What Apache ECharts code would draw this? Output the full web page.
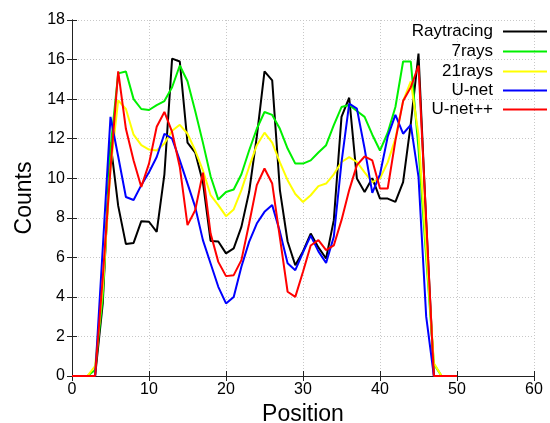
<!DOCTYPE html>
<html>
<head>
<meta charset="utf-8">
<script src="https://cdn.jsdelivr.net/npm/echarts@6/dist/echarts.min.js"></script>
<style>
  html, body { margin: 0; padding: 0; background: #fff; }
  #chart { width: 550px; height: 423px; }
</style>
</head>
<body>
<div id="chart"></div>
<script>
// x positions (0..50)
const positions = [0, 1, 2, 3, 4, 5, 6, 7, 8, 9, 10, 11, 12, 13, 14, 15, 16, 17, 18, 19, 20,
  21, 22, 23, 24, 25, 26, 27, 28, 29, 30, 31, 32, 33, 34, 35, 36, 37, 38, 39, 40,
  41, 42, 43, 44, 45, 46, 47, 48, 49, 50];

const seriesNames = ['Raytracing', '7rays', '21rays', 'U-net', 'U-net++'];
const seriesColors = ['#000000', '#00f000', '#ffff00', '#0000ff', '#ff0000'];

const raytracing = [0, 0, 0, 0, 3.7, 11.8, 8.6, 6.67, 6.73, 7.83, 7.8, 7.29, 10.2, 16.05, 15.9, 11.8, 11.3, 9.8, 6.83, 6.8, 6.2,
  6.45, 7.54, 9.3, 12.1, 15.4, 14.95, 9.4, 6.8, 5.6, 6.3, 7.2, 6.5, 5.94, 7.88, 13.1, 14.07, 9.98, 9.3, 10.0, 8.97,
  8.97, 8.8, 9.8, 12.76, 16.3, 7.8, 0, 0, 0, 0];
const rays7 = [0, 0, 0, 0.3, 4.0, 11.5, 15.3, 15.4, 14.0, 13.5, 13.45, 13.7, 13.9, 14.6, 15.7, 14.9, 13.4, 11.8, 10.1, 8.92, 9.3,
  9.43, 10.2, 11.4, 12.5, 13.35, 13.2, 12.5, 11.5, 10.74, 10.74, 10.9, 11.3, 11.67, 12.68, 13.6, 13.7, 13.4, 13.1, 12.2, 11.4,
  12.3, 13.6, 15.9, 15.9, 11.5, 6.0, 0.6, 0, 0, 0];
const rays21 = [0, 0, 0, 0.5, 4.5, 10.5, 13.94, 13.5, 12.2, 11.67, 11.45, 11.4, 11.75, 12.4, 12.7, 12.25, 11.4, 10.4, 9.14, 8.64, 8.08,
  8.42, 9.4, 10.57, 11.67, 12.3, 11.8, 10.8, 9.9, 9.2, 8.8, 9.14, 9.6, 9.73, 10.2, 10.82, 11.07, 10.82, 10.3, 9.8, 10.0,
  10.8, 12.0, 13.9, 14.9, 12.2, 6.4, 0.64, 0, 0, 0];
const unet = [0, 0, 0, 0, 6.5, 13.1, 11.1, 9.05, 8.9, 9.65, 10.3, 11.07, 12.25, 12.0, 10.9, 9.73, 8.55, 6.87, 5.69, 4.51, 3.67,
  4.0, 5.52, 6.78, 7.71, 8.3, 8.64, 7.3, 5.7, 5.35, 6.25, 7.1, 6.3, 5.72, 7.04, 10.8, 13.77, 13.52, 11.5, 9.26, 10.2,
  12.1, 13.2, 12.25, 12.7, 10.07, 3.0, 0, 0, 0, 0];
const unetpp = [0, 0, 0, 0, 5.0, 10.5, 15.4, 12.5, 10.9, 9.56, 10.74, 12.6, 13.35, 12.34, 10.57, 7.63, 8.38, 10.28, 7.2, 5.77, 5.05,
  5.1, 5.86, 7.7, 9.65, 10.49, 9.73, 7.0, 4.26, 4.0, 5.27, 6.6, 6.87, 6.36, 6.6, 7.88, 9.4, 10.66, 11.1, 10.9, 9.48,
  9.48, 11.9, 13.9, 14.6, 15.7, 7.9, 0, 0, 0, 0];

const xTicks = [0, 10, 20, 30, 40, 50, 60];
const yTicks = [0, 2, 4, 6, 8, 10, 12, 14, 16, 18];

const allValues = [raytracing, rays7, rays21, unet, unetpp];

const fontFamily = '"Liberation Sans", Arial, sans-serif';
const legendTops = [23, 43, 63, 82, 101];

const chart = echarts.init(document.getElementById('chart'), null, { renderer: 'canvas' });

const gridLine = { show: true, lineStyle: { color: '#c8c8c8', type: [1, 2], width: 1 } };
const frameLine = { show: true, lineStyle: { color: '#222', width: 1 } };
const innerTick = { show: true, inside: true, length: 5, lineStyle: { color: '#222', width: 1 } };

const option = {
  backgroundColor: '#fff',
  animation: false,
  // keep the plot box fixed, names may sit near the edges
  grid: { left: 72, right: 16, top: 20, bottom: 47, containLabel: false, outerBoundsMode: 'none' },
  legend: seriesNames.map((name, i) => ({
    data: [name],
    right: 3,
    top: legendTops[i],
    orient: 'vertical',
    align: 'right',
    padding: 0,
    icon: 'rect',
    itemWidth: 44,
    itemHeight: 2,
    selectedMode: false,
    textStyle: { fontFamily, fontSize: 17, color: '#000', padding: [0, 5, 0, 0] },
  })),
  xAxis: [
    {
      type: 'value',
      min: 0,
      max: 60,
      interval: 10,
      name: 'Position',
      nameLocation: 'middle',
      nameGap: 26,
      nameTextStyle: { fontFamily, fontSize: 23, color: '#000' },
      axisLine: frameLine,
      axisTick: innerTick,
      splitLine: gridLine,
      axisLabel: {
        fontFamily, fontSize: 16, color: '#000', margin: 6,
        formatter: (v) => (xTicks.includes(v) ? String(v) : ''),
      },
    },
    {
      type: 'value',
      position: 'top',
      min: 0,
      max: 60,
      interval: 10,
      axisLine: frameLine,
      axisTick: innerTick,
      axisLabel: { show: false },
      splitLine: { show: false },
    },
  ],
  yAxis: [
    {
      type: 'value',
      min: 0,
      max: 18,
      interval: 2,
      name: 'Counts',
      nameLocation: 'middle',
      nameGap: 33,
      nameTextStyle: { fontFamily, fontSize: 23, color: '#000' },
      axisLine: frameLine,
      axisTick: innerTick,
      splitLine: gridLine,
      axisLabel: {
        fontFamily, fontSize: 16, color: '#000', margin: 7,
        formatter: (v) => (yTicks.includes(v) ? String(v) : ''),
      },
    },
    {
      type: 'value',
      position: 'right',
      min: 0,
      max: 18,
      interval: 2,
      axisLine: frameLine,
      axisTick: innerTick,
      axisLabel: { show: false },
      splitLine: { show: false },
    },
  ],
  series: seriesNames.map((name, i) => ({
    name,
    type: 'line',
    showSymbol: false,
    symbol: 'none',
    data: positions.map((x, j) => [x, allValues[i][j]]),
    itemStyle: { color: seriesColors[i] },
    lineStyle: { color: seriesColors[i], width: 2 },
    z: 2 + i,
  })),
};

chart.setOption(option);
</script>
</body>
</html>
